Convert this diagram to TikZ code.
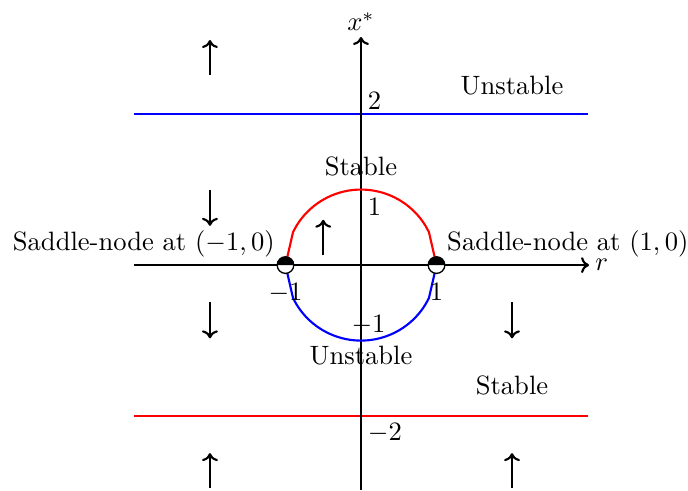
\documentclass[tikz,border=0pt]{standalone}
\usetikzlibrary{arrows.meta}
\begin{document}
\begin{tikzpicture}[x=1cm,y=1cm,
  axis/.style={line width=0.8pt,-{To[length=3pt,width=6pt]}},
  flow/.style={line width=0.8pt,-{To[length=3pt,width=6pt]}},
  lbl/.style={font=\normalsize, inner sep=2pt}]
\useasboundingbox (-4.78,-2.98) rectangle (4.33,3.51);
% horizontal lines
\draw[blue, line width=0.8pt] (-3,2) -- (3,2);
\draw[red, line width=0.8pt] (-3,-2) -- (3,-2);
% axes
\coordinate (xl) at (-3,0); \coordinate (xr) at (3.02,0);
\coordinate (yb) at (0,-2.98); \coordinate (yt) at (0,3.02);
\draw[axis] (xl) -- (xr) node[right, inner sep=2pt] (rl) {$r$};
\draw[axis] (yb) -- (yt) node[above, inner sep=2pt] (xs) {$x^*$};
% curves
\draw[red, line width=0.8pt] (-1,0) -- (-0.9,0.436)
  plot[smooth, domain=-0.9:0.9, samples=37] (\x,{sqrt(max(0,1-\x*\x))}) -- (1,0);
\draw[blue, line width=0.8pt] (-1,0) -- (-0.9,-0.436)
  plot[smooth, domain=-0.9:0.9, samples=37] (\x,{-sqrt(max(0,1-\x*\x))}) -- (1,0);
% saddle-node points
\foreach \p/\n in {-1/sl, 1/sr}{
  \coordinate (\n) at (\p,0);
  \fill[white] (\p,0) circle (0.11);
  \fill[black] (\p-0.11,0) arc (180:0:0.11) -- cycle;
  \draw[line width=0.5pt] (\p,0) circle (0.11);
}
% tick labels
\node[lbl, anchor=south west, inner sep=1pt] (t2) at (0.05,2.02) {$2$};
\node[lbl, anchor=north west, inner sep=1pt] (t1) at (0.05,0.93) {$1$};
\node[lbl, anchor=north, inner sep=1pt] (tm1x) at (-1,-0.2) {$-1$};
\node[lbl, anchor=north, inner sep=1pt] (t1x) at (1,-0.2) {$1$};
\node[lbl] (tm1) at (0.1,-0.8) {$-1$};
\node[lbl, anchor=north west, inner sep=1pt] (tm2) at (0.05,-2.05) {$-2$};
% region labels
\node[lbl] (u1) at (2.0,2.38) {Unstable};
\node[lbl] (s1) at (0,1.3) {Stable};
\node[lbl] (u2) at (0,-1.2) {Unstable};
\node[lbl] (s2) at (2.0,-1.6) {Stable};
\node[lbl, anchor=south east, inner sep=1pt] (snl) at (-1.1,0.06) {Saddle-node at $(-1,0)$};
\node[lbl, anchor=south west, inner sep=1pt] (snr) at (1.1,0.06) {Saddle-node at $(1,0)$};
% flow arrows
\draw[flow] (-2,2.52) -- (-2,2.98);
\draw[flow] (-2,0.99) -- (-2,0.52);
\draw[flow] (-0.5,0.13) -- (-0.5,0.6);
\draw[flow] (-2,-0.49) -- (-2,-0.97);
\draw[flow] (2,-0.49) -- (2,-0.97);
\draw[flow] (-2,-2.95) -- (-2,-2.49);
\draw[flow] (2,-2.95) -- (2,-2.49);
\end{tikzpicture}
\end{document}
